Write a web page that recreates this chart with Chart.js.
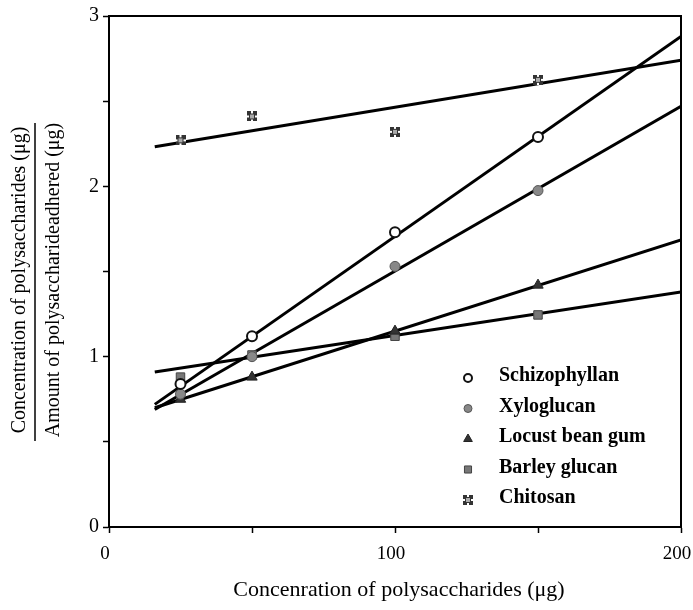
<!DOCTYPE html>
<html>
<head>
<meta charset="utf-8">
<script src="https://cdn.jsdelivr.net/npm/chart.js@4/dist/chart.umd.min.js"></script>
<style>
  html, body { margin: 0; padding: 0; background: #fff; }
  canvas { display: block; }
</style>
</head>
<body>
<canvas id="adhesionChart" width="693" height="610"></canvas>
<script>
// concentrations where samples were measured
const concentrations = [25, 50, 100, 150];

// measured ratio (concentration / amount adhered)
const schizophyllan = [0.84, 1.12, 1.73, 2.29];
const xyloglucan = [0.78, 1.0, 1.53, 1.975];
const locustBeanGum = [0.75, 0.88, 1.15, 1.42];
const barleyGlucan = [0.88, 1.01, 1.12, 1.245];
const chitosan = [2.27, 2.41, 2.32, 2.625];

// fitted straight lines, read at their two ends
const fitX = [16, 200];
const schizophyllanFit = [0.72, 2.88];
const xyloglucanFit = [0.69, 2.47];
const locustBeanGumFit = [0.70, 1.685];
const barleyGlucanFit = [0.91, 1.38];
const chitosanFit = [2.233, 2.74];

const seriesNames = ['Schizophyllan', 'Xyloglucan', 'Locust bean gum', 'Barley glucan', 'Chitosan'];

const serif = "'Liberation Serif', 'Times New Roman', serif";

// little notched square used for chitosan
function makeChitosanMarker() {
  const c = document.createElement('canvas');
  c.width = 10; c.height = 10;
  const g = c.getContext('2d');
  g.fillStyle = '#333';
  g.fillRect(0, 0, 10, 10);
  g.fillStyle = '#fff';
  g.fillRect(4, 0, 2, 2);
  g.fillRect(4, 8, 2, 2);
  g.fillRect(0, 4, 2, 2);
  g.fillRect(8, 4, 2, 2);
  g.fillStyle = '#aaa';
  g.fillRect(3, 3, 4, 4);
  return c;
}
const chitosanMarker = makeChitosanMarker();

const markerStyles = [
  { pointStyle: 'circle', radius: 5, backgroundColor: '#fff', borderColor: '#111', borderWidth: 2 },
  { pointStyle: 'circle', radius: 5, backgroundColor: '#888', borderColor: '#555', borderWidth: 1 },
  { pointStyle: 'triangle', radius: 6, backgroundColor: '#333', borderColor: '#222', borderWidth: 1 },
  { pointStyle: 'rect', radius: 6, backgroundColor: '#777', borderColor: '#444', borderWidth: 1 },
  { pointStyle: chitosanMarker, radius: 5, backgroundColor: '#444', borderColor: '#444', borderWidth: 1 }
];

const measured = [schizophyllan, xyloglucan, locustBeanGum, barleyGlucan, chitosan];
const fits = [schizophyllanFit, xyloglucanFit, locustBeanGumFit, barleyGlucanFit, chitosanFit];

const datasets = [];
fits.forEach((fit, i) => {
  datasets.push({
    label: seriesNames[i] + ' fit',
    data: fitX.map((x, j) => ({ x: x, y: fit[j] })),
    showLine: true,
    borderColor: '#000',
    borderWidth: 3,
    pointRadius: 0,
    order: 2
  });
});
measured.forEach((vals, i) => {
  const m = markerStyles[i];
  datasets.push({
    label: seriesNames[i],
    data: concentrations.map((x, j) => ({ x: x, y: vals[j] })),
    showLine: false,
    pointStyle: m.pointStyle,
    pointRadius: m.radius,
    pointBackgroundColor: m.backgroundColor,
    pointBorderColor: m.borderColor,
    pointBorderWidth: m.borderWidth,
    order: 1
  });
});

// frame, axis titles and the in-plot legend
const decorations = {
  id: 'decorations',
  afterDraw(chart) {
    const ctx = chart.ctx;
    const area = chart.chartArea;
    ctx.save();
    ctx.strokeStyle = '#000';
    ctx.lineWidth = 2;
    ctx.strokeRect(area.left, area.top, area.right - area.left, area.bottom - area.top);

    // x title
    ctx.fillStyle = '#000';
    ctx.font = '22px ' + serif;
    ctx.textAlign = 'center';
    ctx.textBaseline = 'middle';
    ctx.fillText('Concenration of polysaccharides (\u03bcg)', 399, 590);

    // y title as a fraction
    ctx.font = '20px ' + serif;
    ctx.save();
    ctx.translate(0, 280);
    ctx.rotate(-Math.PI / 2);
    ctx.fillText('Concentration of polysaccharides (\u03bcg)', 0, 20);
    ctx.fillText('Amount of polysaccharideadhered (\u03bcg)', 0, 54);
    ctx.restore();
    ctx.lineWidth = 1.5;
    ctx.beginPath();
    ctx.moveTo(35, 123);
    ctx.lineTo(35, 441);
    ctx.stroke();

    // legend
    ctx.font = 'bold 20px ' + serif;
    ctx.textAlign = 'left';
    seriesNames.forEach((name, i) => {
      const y = 376 + i * 30.5;
      const m = markerStyles[i];
      ctx.fillStyle = m.backgroundColor;
      ctx.strokeStyle = m.borderColor;
      ctx.lineWidth = m.borderWidth;
      Chart.helpers.drawPoint(ctx, { pointStyle: m.pointStyle, radius: m.radius - 1, rotation: 0, borderWidth: m.borderWidth }, 468, y + 2);
      ctx.fillStyle = '#000';
      ctx.fillText(name, 499, y);
    });
    ctx.restore();
  }
};

new Chart(document.getElementById('adhesionChart'), {
  type: 'scatter',
  data: { datasets: datasets },
  options: {
    responsive: false,
    animation: false,
    layout: { padding: { top: 16, right: 12, left: 0, bottom: 0 } },
    plugins: { legend: { display: false }, tooltip: { enabled: false } },
    scales: {
      x: {
        type: 'linear',
        min: 0,
        max: 200,
        afterFit(scale) {
          scale.height = 83;
          scale.paddingLeft = 0;
          scale.paddingRight = 0;
        },
        border: { color: '#000', width: 2 },
        grid: { drawOnChartArea: false, color: '#000', tickLength: 6, tickWidth: 1.5 },
        ticks: {
          stepSize: 50,
          padding: 10,
          labelOffset: -4,
          color: '#000',
          font: { family: serif, size: 19 },
          maxRotation: 0,
          callback: (v) => (v % 100 === 0 ? String(v) : '')
        }
      },
      y: {
        type: 'linear',
        min: 0,
        max: 3,
        afterFit(scale) { scale.width = 109; },
        border: { color: '#000', width: 2 },
        grid: { drawOnChartArea: false, color: '#000', tickLength: 6, tickWidth: 1.5 },
        ticks: {
          stepSize: 0.5,
          padding: 4,
          color: '#000',
          font: { family: serif, size: 20 },
          callback: (v) => (Number.isInteger(v) ? String(v) : '')
        }
      }
    }
  },
  plugins: [decorations]
});
</script>
</body>
</html>
